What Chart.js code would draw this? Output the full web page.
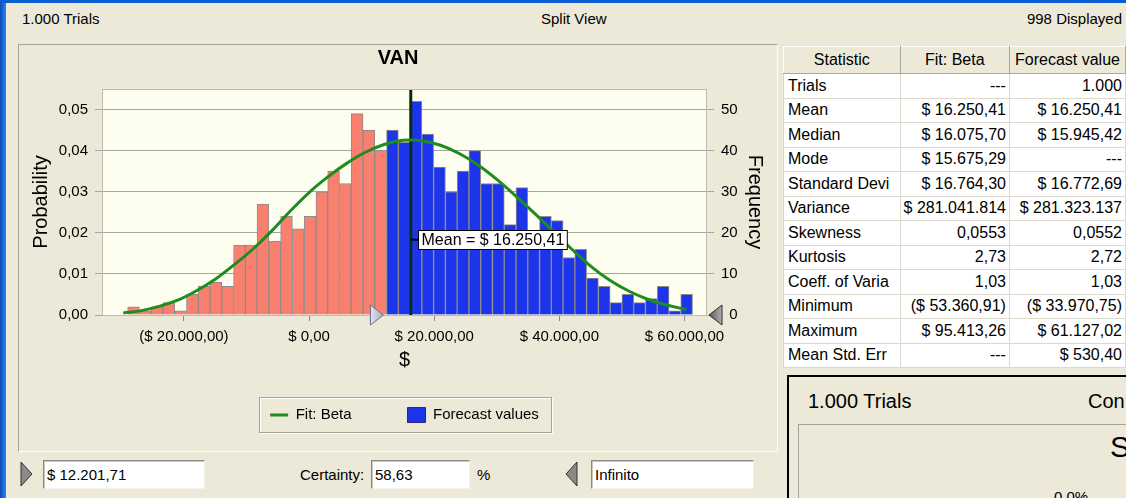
<!DOCTYPE html>
<html>
<head>
<meta charset="utf-8">
<title>VAN</title>
<script src="https://cdn.jsdelivr.net/npm/chart.js@4.4.1/dist/chart.umd.min.js"></script>
<style>
  body { margin: 0; width: 1126px; height: 498px; overflow: hidden; position: relative;
         background: #ECE9D8; font-family: "Liberation Sans", Arial, sans-serif; font-size: 15px; color: #000; }
  .abs { position: absolute; white-space: nowrap; }
  #blueLeft { left: 0; top: 0; width: 6px; height: 498px; background: linear-gradient(to right, #0848C0, #2A8AEA); }
  #blueTop { left: 0; top: 0; width: 1126px; height: 3px; background: #0A5AD0; }
  #chartPanel { left: 18px; top: 44px; width: 758px; height: 406px; border: 1px solid; border-color: #A5A29A #FFFFFF #FFFFFF #A5A29A; }
  #chart { position: absolute; left: 0; top: 0; z-index: 2; }
  #stats { position: absolute; left: 783px; top: 46px; border-collapse: collapse; table-layout: fixed;
           font-size: 16px; background: #fff; }
  #stats td, #stats th { border: 1px solid #DCD8CC; padding: 0 3px; white-space: nowrap; overflow: hidden; }
  #stats th { background: #ECE9D8; font-weight: normal; text-align: center; border-color: #FFFFFF #ACA899 #ACA899 #FFFFFF; height: 26px; }
  #stats td { height: 23.5px; text-align: right; }
  #stats td:first-child { text-align: left; padding-left: 4px; }
  .field { position: absolute; top: 460px; height: 27px; line-height: 27px; background: #fff; padding-left: 3px;
           border: 1px solid; border-color: #8E8B82 #F4F3EE #F4F3EE #8E8B82; box-shadow: inset 1px 1px 0 #C9C6BC; }
  #sidePanel { left: 787px; top: 375px; width: 345px; height: 130px; border-top: 2px solid #000; border-left: 2px solid #000; }
  #innerPanel { left: 798px; top: 424px; width: 340px; height: 80px; border-top: 1px solid #A5A29A; border-left: 1px solid #A5A29A; }
</style>
</head>
<body>
<div id="blueLeft" class="abs"></div>
<div id="blueTop" class="abs"></div>

<div class="abs" style="left:22px; top:10px;">1.000 Trials</div>
<div class="abs" style="left:541px; top:10px;">Split View</div>
<div class="abs" style="right:4px; top:10px;">998 Displayed</div>

<div id="chartPanel" class="abs"></div>
<canvas id="chart" width="1126" height="498"></canvas>

<table id="stats">
  <colgroup><col style="width:120px"><col style="width:109px"><col style="width:118px"></colgroup>
  <tbody id="statsBody"></tbody>
</table>

<svg class="abs" style="left:20px; top:461px;" width="14" height="27">
  <polygon points="1,1 12,13 1,25" fill="#8A8A8A" stroke="#333" stroke-width="1"/>
</svg>
<div class="field" style="left:43px; width:157px;">$ 12.201,71</div>
<div class="abs" style="left:300px; top:466px;">Certainty:</div>
<div class="field" style="left:371px; width:94px;">58,63</div>
<div class="abs" style="left:477px; top:466px;">%</div>
<svg class="abs" style="left:565px; top:461px;" width="14" height="27">
  <polygon points="12,1 1,13 12,25" fill="#8A8A8A" stroke="#333" stroke-width="1"/>
</svg>
<div class="field" style="left:591px; width:158px;">Infinito</div>

<div id="sidePanel" class="abs"></div>
<div class="abs" style="left:808px; top:390px; font-size:20px;">1.000 Trials</div>
<div class="abs" style="left:1088px; top:390px; font-size:20px;">Con</div>
<div id="innerPanel" class="abs"></div>
<div class="abs" style="left:1110px; top:430px; font-size:30px;">S</div>
<div class="abs" style="left:1054px; top:488px; font-size:15px;">0,0%</div>

<script>
// histogram of the forecast (frequency per bin, 998 values displayed)
const binStart = -29000;
const binWidth = 1881;
const frequencies = [2, 1, 2, 3, 1, 5, 7, 8, 7, 17, 17, 27, 18, 24, 21, 24, 30, 35, 32, 49, 45, 40,
                     45, 42, 52, 44, 36, 30, 35, 40, 32, 32, 22, 31, 20, 24, 23, 14, 16, 9, 7, 3, 5, 3, 4, 7, 1, 5];

// fitted Beta curve (x in $, y in frequency units)
const fitX = [-29700, -27000, -24000, -21000, -18000, -15000, -12000, -9000, -6000, -3000, 0, 3000, 6000, 9000,
              12000, 15000, 18000, 21000, 24000, 27000, 30000, 33000, 36000, 39000, 42000, 45000, 48000,
              51000, 54000, 57000, 60300];
const fitFreq = [0.5, 1.0, 2.1, 3.6, 5.9, 8.7, 12.2, 16.0, 20.4, 25.3, 29.8, 33.6, 36.9, 39.6,
                 41.5, 42.5, 42.4, 41.3, 39.3, 36.5, 33.0, 29.0, 24.8, 20.4, 16.0, 11.9, 8.5,
                 5.9, 3.9, 2.5, 1.3];

const xTickValues = [-20000, 0, 20000, 40000, 60000];
const probTickValues = [0, 0.01, 0.02, 0.03, 0.04, 0.05];
const freqTickValues = [0, 10, 20, 30, 40, 50];

const meanValue = 16250.41;
const lowerBound = 12201.71;

const statRows = [
  ["Trials", "---", "1.000"],
  ["Mean", "$ 16.250,41", "$ 16.250,41"],
  ["Median", "$ 16.075,70", "$ 15.945,42"],
  ["Mode", "$ 15.675,29", "---"],
  ["Standard Devi", "$ 16.764,30", "$ 16.772,69"],
  ["Variance", "$ 281.041.814", "$ 281.323.137"],
  ["Skewness", "0,0553", "0,0552"],
  ["Kurtosis", "2,73", "2,72"],
  ["Coeff.  of Varia", "1,03", "1,03"],
  ["Minimum", "($ 53.360,91)", "($ 33.970,75)"],
  ["Maximum", "$ 95.413,26", "$ 61.127,02"],
  ["Mean Std. Err", "---", "$ 530,40"]
];

// Colors
const SALMON = "#F9806F";
const BLUE = "#1C34EA";
const GREEN = "#1F8C1F";
const PLOT_BG = "#FEFEF0";
const GRID = "#A4A4A4";

// Stats table
const statsBody = document.querySelector("#statsBody");
statsBody.insertAdjacentHTML("beforeend", "<tr><th>Statistic</th><th>Fit: Beta</th><th>Forecast value</th></tr>");
statRows.forEach(r => {
  statsBody.insertAdjacentHTML("beforeend", `<tr><td>${r[0]}</td><td>${r[1]}</td><td>${r[2]}</td></tr>`);
});

function money(v) {
  const parts = Math.abs(v).toFixed(2).split(".");
  const whole = parts[0].replace(/\B(?=(\d{3})+(?!\d))/g, ".");
  const txt = "$ " + whole + "," + parts[1];
  return v < 0 ? "(" + txt + ")" : txt;
}

const bars = frequencies.map((f, i) => ({ x: binStart + binWidth * (i + 0.5), y: f }));
const barColors = frequencies.map((f, i) => (binStart + binWidth * i >= lowerBound ? BLUE : SALMON));

// Extra drawing: plot background, mean line + label, bound markers, legend frame
const decor = {
  id: "decor",
  beforeDraw(chart) {
    const a = chart.chartArea, ctx = chart.ctx;
    ctx.save();
    ctx.fillStyle = PLOT_BG;
    ctx.fillRect(a.left, a.top, a.right - a.left, a.bottom - a.top);
    ctx.restore();
  },
  beforeDatasetDraw(chart, args) {
    if (args.index !== 0) return;
    const a = chart.chartArea, ctx = chart.ctx;
    const mx = chart.scales.x.getPixelForValue(meanValue);
    ctx.save();
    ctx.strokeStyle = "#0A2E0A";
    ctx.lineWidth = 3;
    ctx.beginPath();
    ctx.moveTo(mx, a.top);
    ctx.lineTo(mx, a.bottom);
    ctx.stroke();
    ctx.restore();
  },
  afterDatasetsDraw(chart) {
    const a = chart.chartArea, ctx = chart.ctx;
    ctx.save();
    ctx.strokeStyle = "#BDBCB2";
    ctx.lineWidth = 1;
    ctx.strokeRect(a.left + 0.5, a.top + 0.5, a.right - a.left - 1, a.bottom - a.top);

    // mean label
    const mx = chart.scales.x.getPixelForValue(meanValue);
    const cy = a.top + (a.bottom - a.top) * 2 / 3;
    const text = "Mean = " + money(meanValue);
    ctx.font = "16px 'Liberation Sans', Arial, sans-serif";
    const w = ctx.measureText(text).width + 6;
    const bx = Math.round(mx + 7) + 0.5, by = Math.round(cy - 10) + 0.5;
    ctx.strokeStyle = "#000";
    ctx.lineWidth = 2;
    ctx.beginPath();
    ctx.moveTo(mx, cy);
    ctx.lineTo(bx, cy);
    ctx.stroke();
    ctx.fillStyle = "#fff";
    ctx.fillRect(bx, by, w, 19);
    ctx.lineWidth = 1;
    ctx.strokeRect(bx, by, w, 19);
    ctx.fillStyle = "#000";
    ctx.textBaseline = "middle";
    ctx.fillText(text, bx + 3, cy + 0.5);
    ctx.restore();
  },
  afterDraw(chart) {
    const a = chart.chartArea, ctx = chart.ctx;
    ctx.save();
    // lower bound marker
    const lx = chart.scales.x.getPixelForValue(lowerBound) - 2;
    let g = ctx.createLinearGradient(lx - 13, 0, lx, 0);
    g.addColorStop(0, "#E4E4F2");
    g.addColorStop(1, "#A8A8C4");
    ctx.fillStyle = g;
    ctx.strokeStyle = "#6E6E84";
    ctx.lineWidth = 1;
    ctx.beginPath();
    ctx.moveTo(lx - 13, a.bottom - 10);
    ctx.lineTo(lx, a.bottom);
    ctx.lineTo(lx - 13, a.bottom + 10);
    ctx.closePath();
    ctx.fill();
    ctx.stroke();
    // upper bound marker (infinite)
    const rx = a.right + 2;
    g = ctx.createLinearGradient(rx, 0, rx + 13, 0);
    g.addColorStop(0, "#5A5A5A");
    g.addColorStop(1, "#B0B0B0");
    ctx.fillStyle = g;
    ctx.strokeStyle = "#2A2A2A";
    ctx.beginPath();
    ctx.moveTo(rx + 13, a.bottom - 10);
    ctx.lineTo(rx, a.bottom);
    ctx.lineTo(rx + 13, a.bottom + 10);
    ctx.closePath();
    ctx.fill();
    ctx.stroke();

    // legend frame
    const hb = chart.legend.legendHitBoxes;
    if (hb && hb.length) {
      const first = hb[0], last = hb[hb.length - 1];
      const x1 = Math.round(first.left - 11) + 0.5;
      const x2 = Math.round(last.left + last.width + 12) + 0.5;
      const ym = first.top + first.height / 2;
      const y1 = Math.round(ym - 18) + 0.5, y2 = Math.round(ym + 17) + 0.5;
      ctx.strokeStyle = "#FFFFFF";
      ctx.strokeRect(x1 + 1, y1 + 1, x2 - x1, y2 - y1);
      ctx.strokeStyle = "#A5A29A";
      ctx.strokeRect(x1, y1, x2 - x1, y2 - y1);
    }
    ctx.restore();
  }
};

Chart.defaults.font.family = "'Liberation Sans', Arial, sans-serif";
Chart.defaults.color = "#1A1A1A";

const tickFont = { size: 15 };

new Chart(document.querySelector("#chart"), {
  type: "bar",
  data: {
    datasets: [
      {
        type: "line",
        label: "Fit: Beta",
        data: fitX.map((x, i) => ({ x: x, y: fitFreq[i] })),
        yAxisID: "freq",
        borderColor: GREEN,
        backgroundColor: GREEN,
        borderWidth: 3,
        pointRadius: 0,
        tension: 0.4,
        fill: false
      },
      {
        type: "bar",
        label: "Forecast values",
        data: bars,
        yAxisID: "freq",
        backgroundColor: barColors,
        borderColor: "#8C8C8C",
        borderWidth: 1,
        barPercentage: 1,
        categoryPercentage: 1
      }
    ]
  },
  options: {
    responsive: false,
    animation: false,
    events: [],
    layout: { padding: { left: 24, right: 354, top: 46, bottom: 65.5 } },
    plugins: {
      tooltip: { enabled: false },
      title: {
        display: true,
        text: "VAN",
        color: "#000",
        font: { size: 20, weight: "bold" },
        padding: { top: 0, bottom: 19 }
      },
      legend: {
        position: "bottom",
        fullSize: false,
        labels: {
          usePointStyle: true,
          pointStyleWidth: 18,
          padding: 56,
          color: "#000",
          font: { size: 15 },
          generateLabels(chart) {
            const items = Chart.defaults.plugins.legend.labels.generateLabels(chart);
            items[0].pointStyle = "line";
            items[0].lineWidth = 3;
            items[1].pointStyle = "rect";
            items[1].fillStyle = BLUE;
            items[1].strokeStyle = "#2A2A6A";
            items[1].lineWidth = 1;
            return items;
          }
        }
      }
    },
    scales: {
      x: {
        type: "linear",
        offset: false,
        min: -33100,
        max: 63600,
        afterBuildTicks: s => { s.ticks = xTickValues.map(v => ({ value: v })); },
        afterFit: s => { s.height = 36.5; },
        ticks: { font: tickFont, color: "#000", padding: 7, maxRotation: 0, autoSkip: false, callback: v => money(v) },
        grid: { offset: false, drawOnChartArea: false, drawTicks: true, tickLength: 6, color: "#8A8A8A" },
        border: { display: false },
        title: { display: true, text: "$", color: "#000", font: { size: 20 }, padding: { top: 0, bottom: -20.5 } }
      },
      prob: {
        position: "left",
        min: 0,
        max: 0.055,
        afterBuildTicks: s => { s.ticks = probTickValues.map(v => ({ value: v })); },
        afterFit: s => { s.width = 78; },
        ticks: { font: tickFont, color: "#000", padding: 7, callback: v => v.toFixed(2).replace(".", ",") },
        grid: { color: GRID, tickLength: 7 },
        border: { display: false },
        title: { display: true, text: "Probability", color: "#000", font: { size: 20 }, padding: { top: 5, bottom: 0 } }
      },
      freq: {
        position: "right",
        min: 0,
        max: 55,
        afterBuildTicks: s => { s.ticks = freqTickValues.map(v => ({ value: v })); },
        afterFit: s => { s.width = 65; },
        ticks: { font: tickFont, color: "#000", padding: 7, crossAlign: "near", callback: v => String(v).padStart(2, "\u2007") },
        grid: { drawOnChartArea: false, color: GRID, tickLength: 7 },
        border: { display: false },
        title: { display: true, text: "Frequency", color: "#000", font: { size: 20 }, padding: { top: 5, bottom: 0 } }
      }
    }
  },
  plugins: [decor]
});
</script>
</body>
</html>
